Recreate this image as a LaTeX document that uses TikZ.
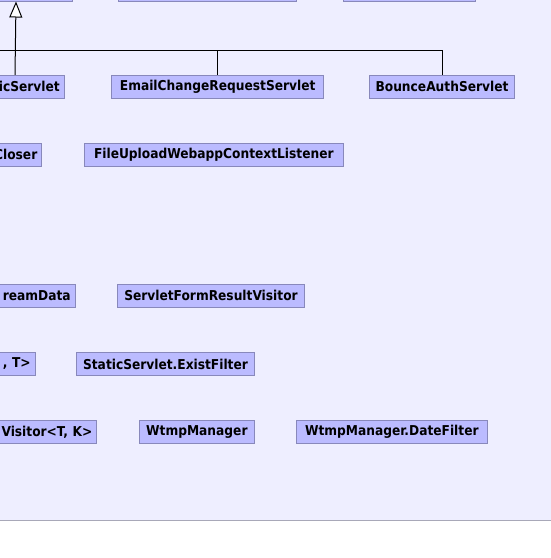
\documentclass[tikz,border=0pt]{standalone}
\usepackage{fontspec}
\setmainfont{DejaVu Sans Condensed}
\usetikzlibrary{arrows.meta}
\definecolor{diagbg}{HTML}{EEEEFF}
\definecolor{classfill}{HTML}{BBBBFF}
\definecolor{classline}{HTML}{8888BB}
\definecolor{frameline}{HTML}{A8A8B8}
\begin{document}
\begin{tikzpicture}[x=1pt, y=-1pt,
    cls/.style={draw=classline, fill=classfill, line width=1pt, minimum height=23pt,
      inner xsep=6.5pt, inner ysep=0pt, font=\bfseries\fontsize{13.6}{15}\selectfont},
    cut/.style={text width=100pt, align=right, anchor=east, inner xsep=4.5pt},
    extends/.style={-{Triangle[length=16pt, width=13pt, fill=white]}, line width=1pt}]
    \useasboundingbox (0,0) rectangle (551,558);
    \clip (0,0) rectangle (551,558);

    % background
    \fill[diagbg] (0,0) rectangle (551,520);
    \draw[frameline, line width=1pt] (0,520) -- (551,520);

    % parents, cut at the top
    \node[cls, minimum width=112pt] (servlet) at (16,-10.5) {};
    \node[cls, minimum width=178pt] (parentb) at (207,-10.5) {};
    \node[cls, minimum width=132pt] (parentc) at (409,-10.5) {};

    % servlets
    \node[cls, text width=89.6pt, inner xsep=4.5pt, align=right] (static) at (15,86.8) {icServlet};
    \node[cls, minimum width=211.7pt] (email) at (217.7,86.8) {EmailChangeRequestServlet};
    \node[cls, minimum width=143.4pt] (bounce) at (442,86.8) {BounceAuthServlet};

    \coordinate (bus) at (15,50.3);
    \coordinate (busend) at (-20,50.3);

    \draw[line width=1pt] (busend) -- (bus);
    \draw[line width=1pt] (email.north) |- (bus);
    \draw[line width=1pt] (bounce.north) |- (bus);
    \draw[extends] (static.north) -- (servlet.south);

    % other classes
    \node[cls, cut] (closer) at (42.3,154.8) {Closer};
    \node[cls, minimum width=258.3pt] (upload) at (213.85,154.8) {FileUploadWebappContextListener};

    \node[cls, cut] (streamdata) at (75.7,295.8) {reamData};
    \node[cls, minimum width=186pt] (formvisitor) at (211,295.8) {ServletFormResultVisitor};

    \node[cls, cut] (generic) at (35.7,364) {, T>};
    \node[cls, minimum width=175pt] (existfilter) at (165.5,364) {StaticServlet.ExistFilter};

    \node[cls, cut] (kvisitor) at (97.3,432) {Visitor<T, K>};
    \node[cls, minimum width=114.3pt] (wtmp) at (196.85,432) {WtmpManager};
    \node[cls, minimum width=191pt] (datefilter) at (391.8,432) {WtmpManager.DateFilter};
  \end{tikzpicture}
\end{document}
